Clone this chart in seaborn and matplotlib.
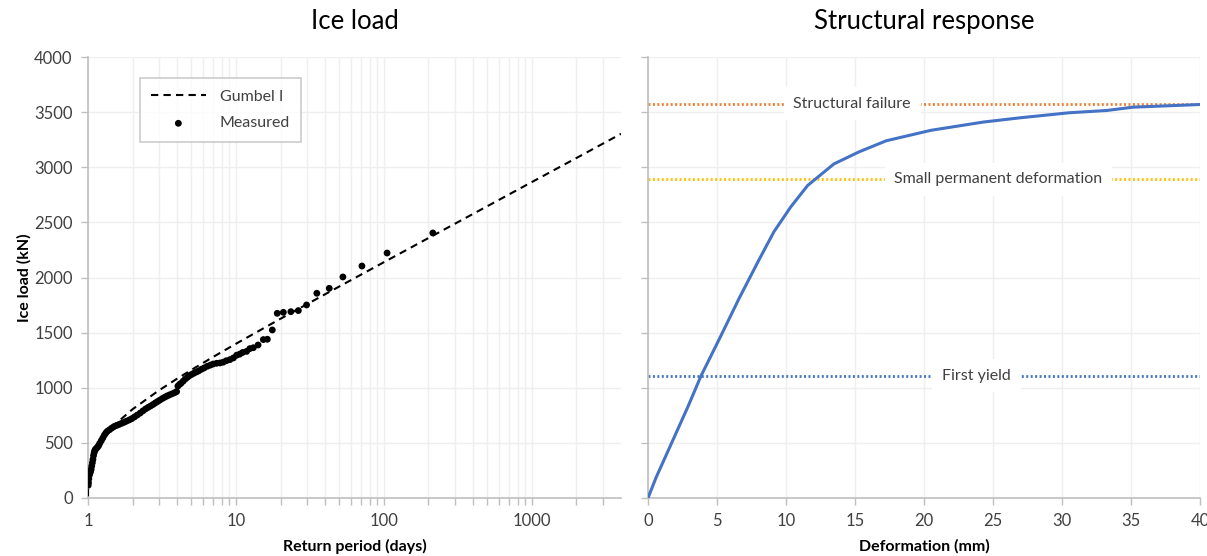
import numpy as np
import pandas as pd
import matplotlib
matplotlib.use("Agg")
import matplotlib.pyplot as plt
from matplotlib.ticker import FixedLocator, FuncFormatter, NullFormatter
import seaborn as sns

# ---------------- data ----------------
# Gumbel I fit (return period in days, ice load kN)
gumbel_T = [1.0002, 1.001, 1.01, 1.05, 1.1, 1.2, 1.3, 1.5, 2, 3, 4, 5, 7, 10, 20, 50,
            100, 200, 500, 1000, 2000, 4000]
gumbel_load = [15, 81, 208, 339, 414, 506, 569, 660, 805, 974, 1082, 1162, 1279, 1399,
               1626, 1919, 2139, 2358, 2647, 2866, 3084, 3303]

# Measured ice loads
meas_T = [1.003, 1.008, 1.013, 1.02, 1.03, 1.04, 1.05, 1.06, 1.07, 1.08, 1.09, 1.10,
          1.11, 1.12, 1.14, 1.16, 1.18, 1.20, 1.23, 1.26, 1.29, 1.32, 1.35, 1.40,
          1.45, 1.50, 1.56, 1.62, 1.68, 1.75, 1.82, 1.90, 1.98, 2.06, 2.15, 2.25,
          2.35, 2.45, 2.55, 2.65, 2.75, 2.85, 2.95, 3.06, 3.18, 3.30, 3.42, 3.55,
          3.70, 3.85, 3.97, 4.05, 4.15, 4.25, 4.40, 4.55, 4.70, 4.85, 5.00, 5.20,
          5.40, 5.60, 5.85, 6.10, 6.40, 6.70, 7.00, 7.40, 7.80, 8.20, 8.60, 9.10,
          9.60, 10.1, 10.6, 11.1, 11.8, 12.4, 13.1, 14.1, 15.3, 16.3, 17.6, 19.0,
          20.9, 23.5, 26.4, 30.0, 35.2, 42.7, 52.8, 71, 105, 214]
meas_load = [115, 140, 175, 205, 225, 240, 260, 290, 320, 350, 385, 410,
             428, 440, 450, 462, 475, 495, 520, 545, 570, 590, 605, 620,
             635, 648, 658, 667, 676, 686, 697, 708, 720, 735, 752, 770,
             790, 808, 822, 835, 848, 862, 875, 888, 902, 914, 925, 935,
             945, 955, 965, 1015, 1030, 1040, 1060, 1080, 1095, 1110, 1120, 1132,
             1143, 1153, 1168, 1180, 1195, 1205, 1215, 1222, 1225, 1232, 1245, 1255,
             1270, 1295, 1305, 1320, 1330, 1355, 1363, 1388, 1437, 1440, 1524, 1675,
             1684, 1690, 1700, 1751, 1857, 1902, 2005, 2104, 2222, 2404]

# Structural response
deformation = [0, 0.6, 1.5, 2.9, 3.85, 5.2, 6.6, 8.05, 9.13, 10.35, 11.57, 13.47,
               15.3, 17.26, 20.5, 24.3, 27.0, 30.5, 33.25, 35.15, 40]
response_load = [0, 190, 440, 830, 1110, 1450, 1810, 2162, 2416, 2641, 2835, 3030,
                 3140, 3240, 3335, 3410, 3449, 3494, 3515, 3545, 3569]

limit_names = ["Structural failure", "Small permanent deformation", "First yield"]
limit_loads = [3577, 2890, 1110]
limit_label_x = [14.8, 25.4, 23.8]
limit_colors = ["#ED7D31", "#FFC000", "#4472C4"]

x_ticks_left = [1, 10, 100, 1000]
y_ticks = [0, 500, 1000, 1500, 2000, 2500, 3000, 3500, 4000]
x_ticks_right = [0, 5, 10, 15, 20, 25, 30, 35, 40]

# ---------------- style ----------------
sns.set_theme(style="white")
plt.rcParams["font.family"] = ["Lato", "DejaVu Sans"]

GRID = "#EFEFEF"
SPINE = "#BFBFBF"
TXT = "#404040"

fig = plt.figure(figsize=(12.07, 5.56), dpi=100)
axL = fig.add_axes([88 / 1207, 1 - 498 / 556, (621 - 88) / 1207, 441 / 556])
axR = fig.add_axes([648 / 1207, 1 - 498 / 556, (1200 - 648) / 1207, 441 / 556])

gdf = pd.DataFrame({"T": gumbel_T, "load": gumbel_load})
mdf = pd.DataFrame({"T": meas_T, "load": meas_load})
rdf = pd.DataFrame({"d": deformation, "load": response_load})

# ---------------- left panel ----------------
axL.set_xscale("log")
sns.lineplot(data=gdf, x="T", y="load", ax=axL, color="black", lw=1.5,
             linestyle=(0, (3.5, 2.5)), label="Gumbel I", zorder=3)
sns.scatterplot(data=mdf, x="T", y="load", ax=axL, color="black", s=24,
                edgecolor="none", label="Measured", zorder=4)
axL.set_xlim(1, 4000)
axL.set_ylim(0, 4000)
axL.xaxis.set_major_locator(FixedLocator(x_ticks_left))
minor = [m * 10 ** e for e in range(0, 4) for m in range(2, 10) if m * 10 ** e < 4000]
axL.xaxis.set_minor_locator(FixedLocator(minor))
axL.xaxis.set_major_formatter(FuncFormatter(lambda v, p: f"{int(round(v))}"))
axL.xaxis.set_minor_formatter(NullFormatter())
axL.set_yticks(y_ticks)
axL.grid(True, which="both", axis="x", color=GRID, lw=1)
axL.grid(True, which="major", axis="y", color=GRID, lw=1)
axL.set_axisbelow(True)
axL.set_xlabel("Return period (days)", fontsize=11.5, fontweight="bold", color="black", labelpad=7)
axL.set_ylabel("Ice load (kN)", fontsize=11.5, fontweight="bold", color="black", labelpad=2)
axL.set_title("Ice load", fontsize=18.5, color="black", pad=20)
leg = axL.legend(loc="upper left", bbox_to_anchor=(0.0976, 0.952), frameon=True,
                 fancybox=False, edgecolor=SPINE, fontsize=11.5, handlelength=3.4,
                 borderpad=0.7, labelspacing=0.8, handletextpad=0.9, borderaxespad=0)
leg.get_frame().set_linewidth(1.2)
for t in leg.get_texts():
    t.set_color(TXT)

# ---------------- right panel ----------------
for name, val, lx, col in zip(limit_names, limit_loads, limit_label_x, limit_colors):
    axR.axhline(val, color=col, lw=2, linestyle=(0, (0.7, 0.9)), zorder=2)
    axR.text(lx, val, name, ha="center", va="center", fontsize=11.5, color=TXT, zorder=3,
             bbox=dict(facecolor="white", edgecolor="none", pad=7))
sns.lineplot(data=rdf, x="d", y="load", ax=axR, color="#4472C4", lw=2.2, zorder=4)
axR.set_xlim(0, 40)
axR.set_ylim(0, 4000)
axR.set_xticks(x_ticks_right)
axR.set_yticks(y_ticks)
axR.set_yticklabels([])
axR.grid(True, color=GRID, lw=1)
axR.set_axisbelow(True)
axR.set_xlabel("Deformation (mm)", fontsize=11.5, fontweight="bold", color="black", labelpad=7)
axR.set_ylabel("")
axR.set_title("Structural response", fontsize=18.5, color="black", pad=20)

for ax in (axL, axR):
    for s in ("top", "right"):
        ax.spines[s].set_visible(False)
    for s in ("left", "bottom"):
        ax.spines[s].set_color(SPINE)
        ax.spines[s].set_linewidth(1.2)
    ax.tick_params(which="both", direction="out", length=5, width=1, color=SPINE,
                   labelsize=12, labelcolor=TXT, bottom=True, left=True, pad=6)
    ax.tick_params(which="minor", length=5)

fig.savefig("out.png", dpi=100, facecolor="white")
